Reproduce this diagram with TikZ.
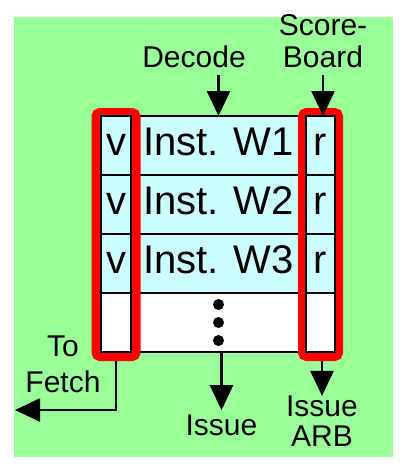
\documentclass[tikz,border=0pt]{standalone}
\usepackage{fontspec}
\setmainfont{Liberation Sans}
\usetikzlibrary{arrows.meta}
\definecolor{bggreen}{HTML}{99FF99}
\definecolor{cellcyan}{HTML}{CCFFFF}
\tikzset{
	cell/.style={draw, fill=cellcyan, line width=1.5pt, inner sep=0pt, outer sep=0pt, minimum height=59pt, text height=29pt, text depth=9pt, font=\fontsize{40}{44}\selectfont},
	blankcell/.style={cell, fill=white},
	redbox/.style={draw=red, line width=9pt, rounded corners=4pt, inner sep=0pt, minimum width=#1, minimum height=244pt},
	lbl/.style={inner sep=0pt, font=\fontsize{30}{32}\selectfont},
	arrow/.style={line width=2.5pt, -{Triangle[length=25pt,width=23pt]}}
}

\begin{document}
\begin{tikzpicture}[x=1pt, y=-1pt]
	\useasboundingbox (0, 0) rectangle (410, 474);
	\fill[white] (0, 0) rectangle (410, 474);
	\fill[bggreen] (14, 17) rectangle (393, 457);
	% Instruction buffer entries:
	\node[cell, minimum width=175pt](i1) at (218.5, 145.5){Inst. W1};
	\node[cell, minimum width=175pt](i2) at (218.5, 204.5){Inst. W2};
	\node[cell, minimum width=175pt](i3) at (218.5, 263.5){Inst. W3};
	\node[blankcell, minimum width=175pt](i4) at (218.5, 322.5){};
	\fill (i4.center) ++(0, -18) circle (5.5);
	\fill (i4.center) circle (5.5);
	\fill (i4.center) ++(0, 18) circle (5.5);
	% Red outlines round the valid and ready bits:
	\node[redbox=40pt](vbox) at (116, 234.5){};
	\node[redbox=36pt](rbox) at (320.5, 234.5){};
	\node[cell, minimum width=30pt](v1) at (116, 145.5){v};
	\node[cell, minimum width=30pt](v2) at (116, 204.5){v};
	\node[cell, minimum width=30pt](v3) at (116, 263.5){v};
	\node[blankcell, minimum width=30pt](v4) at (116, 322.5){};
	\node[cell, minimum width=29pt](r1) at (320.5, 145.5){r};
	\node[cell, minimum width=29pt](r2) at (320.5, 204.5){r};
	\node[cell, minimum width=29pt](r3) at (320.5, 263.5){r};
	\node[blankcell, minimum width=29pt](r4) at (320.5, 322.5){};
	% Labels:
	\node[lbl, anchor=base](decode) at (194, 67){Decode};
	\node[lbl, align=center, anchor=south](score) at (323, 68){Score-\\Board};
	\node[lbl, anchor=base](issue) at (221.5, 435){Issue};
	\node[lbl, align=center, anchor=south](issarb) at (322, 447){Issue\\[-2pt]ARB};
	\node[lbl, align=center, anchor=south](tofetch) at (63, 393){To\\[4pt]Fetch};
	\coordinate (fetchpt) at (15, 410);
	% Arrows:
	\draw[arrow] ([yshift=-8pt]decode.south -| i1.north) -- (i1.north);
	\draw[arrow] ([yshift=-7pt]score.south) -- (score.south |- r1.north);
	\draw[arrow] (i4.south -| issue.north) -- ([yshift=4pt]issue.north);
	\draw[arrow] (rbox.south -| issarb.north) -- (issarb.north);
	\draw[arrow] (vbox.south) |- (fetchpt);
\end{tikzpicture}
\end{document}
